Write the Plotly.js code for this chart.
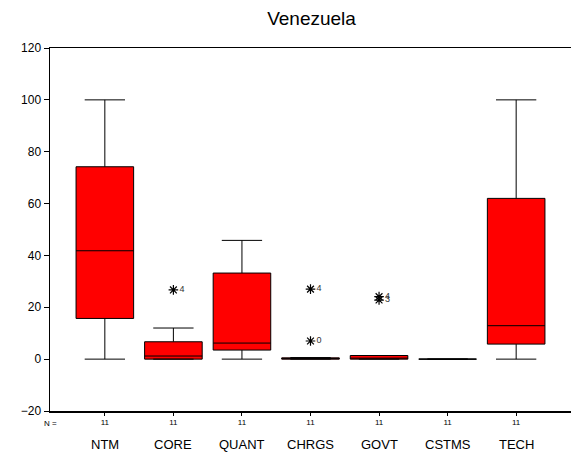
<!DOCTYPE html>
<html>
<head>
<meta charset="utf-8">
<script src="https://cdn.plot.ly/plotly-3.0.1.min.js"></script>
<style>html,body{margin:0;padding:0;background:#fff;}#chart{width:571px;height:455px;}</style>
</head>
<body>
<div id="chart"></div>
<script>
// ---- data ----
var categories = ["NTM", "CORE", "QUANT", "CHRGS", "GOVT", "CSTMS", "TECH"];
var nLabels    = ["11", "11", "11", "11", "11", "11", "11"];
var lowerWhisk = [0, 0, 0, 0, 0, 0, 0];
var q1Vals     = [15.7, 0, 3.5, 0, 0, 0, 5.8];
var medianVals = [41.8, 1.2, 6.2, 0.2, 0.3, 0, 12.9];
var q3Vals     = [74.2, 6.7, 33.2, 0.5, 1.4, 0, 62.0];
var upperWhisk = [100, 12, 45.8, 0.6, 1.4, 0, 100];
var outlierCats   = ["CORE", "CHRGS", "CHRGS", "GOVT", "GOVT"];
var outlierVals   = [26.7, 27.0, 7.0, 24.1, 22.8];
var outlierLabels = ["4", "4", "0", "4", "3"];
var chartTitle = "Venezuela";
var yTicks = [-20, 0, 20, 40, 60, 80, 100, 120];

var FONT = "Liberation Sans, Arial, sans-serif";

var boxTrace = {
  type: "box",
  x: categories,
  q1: q1Vals,
  median: medianVals,
  q3: q3Vals,
  lowerfence: lowerWhisk,
  upperfence: upperWhisk,
  fillcolor: "#ff0000",
  line: {color: "#000000", width: 1},
  width: 0.84,
  whiskerwidth: 0.7,
  boxpoints: false,
  hoverinfo: "skip",
  showlegend: false
};

var outlierTrace = {
  type: "scatter",
  mode: "markers+text",
  x: outlierCats,
  y: outlierVals,
  text: outlierLabels,
  textposition: "middle right",
  textfont: {family: FONT, size: 9, color: "#333"},
  marker: {symbol: "asterisk-open", size: 8, color: "#000", line: {color: "#000", width: 1.2}},
  cliponaxis: false,
  showlegend: false,
  hoverinfo: "skip"
};

var annotations = categories.map(function (c) {
  return {
    x: c, xref: "x", y: 0, yref: "paper",
    text: c, showarrow: false,
    yanchor: "middle", yshift: -33,
    font: {family: FONT, size: 13, color: "#000"}
  };
});
annotations.push({
  x: 0, xref: "paper", y: 0, yref: "paper",
  text: "N =", showarrow: false,
  xanchor: "center", yanchor: "middle", yshift: -12.5,
  font: {family: FONT, size: 8, color: "#000"}
});

var layout = {
  width: 571, height: 455,
  margin: {l: 50, r: 0, t: 48, b: 44, pad: 0},
  paper_bgcolor: "#fff", plot_bgcolor: "#fff",
  title: {text: chartTitle, font: {family: FONT, size: 19, color: "#000"}, x: 311.5 / 571, xanchor: "center", y: 1 - 18 / 455, yanchor: "middle"},
  xaxis: {
    type: "category",
    categoryorder: "array", categoryarray: categories,
    range: [-0.8, 6.8],
    tickvals: categories, ticktext: nLabels,
    tickfont: {family: FONT, size: 8, color: "#000"},
    ticks: "outside", ticklen: 3, tickcolor: "#000", tickwidth: 1,
    showline: true, linecolor: "#000", linewidth: 1.5, mirror: true,
    showgrid: false, zeroline: false, fixedrange: true
  },
  yaxis: {
    range: [-20, 120],
    tickvals: yTicks,
    tickfont: {family: FONT, size: 12, color: "#000"},
    ticks: "outside", ticklen: 5, tickcolor: "#000", tickwidth: 1,
    showline: true, linecolor: "#000", linewidth: 1.5,
    showgrid: false, zeroline: false, fixedrange: true
  },
  annotations: annotations,
  showlegend: false
};

Plotly.newPlot("chart", [boxTrace, outlierTrace], layout, {displayModeBar: false, staticPlot: true});
</script>
</body>
</html>
